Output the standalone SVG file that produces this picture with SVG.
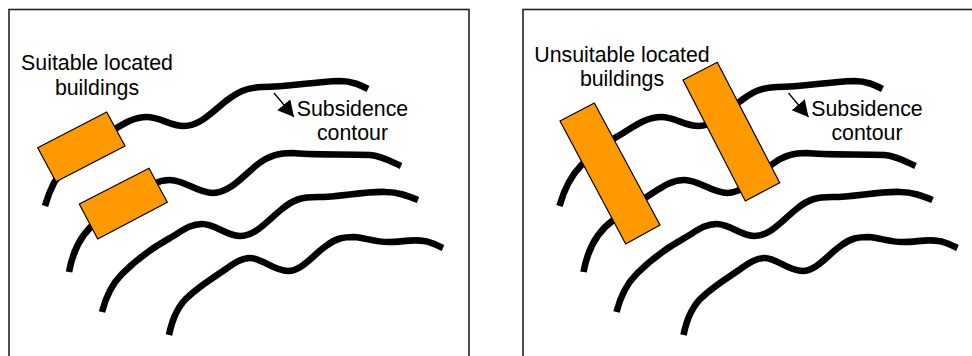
<svg xmlns="http://www.w3.org/2000/svg" xmlns:xlink="http://www.w3.org/1999/xlink" width="972" height="356" viewBox="0 0 972 356">
<style>
.frame{fill:none;stroke:#222;stroke-width:1.6}
.contour{fill:none;stroke:#000;stroke-width:6.6}
.building{fill:#f90;stroke:#000;stroke-width:1.2}
.pointer{fill:none;stroke:#000;stroke-width:1.3}
text{font-family:"Liberation Sans",Arial,sans-serif;font-size:21.33px;fill:#000;text-anchor:middle}
</style>
<defs>
<path id="c1" class="contour" d="M45 206C50 188 57 175 67 165C80 151 92 142 102 137C118 128 130 117 147 117C160 117 170 126 184 126C200 126 212 112 226 101C238 92 245 88 262 87C290 87 310 82 340 81C352 81 360 85 368 89"/>
<path id="c2" class="contour" d="M69 272C73 250 82 232 99 220C110 210 120 203 132 197C145 189 155 180 170 180C185 180 197 193 213 193C230 193 245 174 258 164C270 155 280 153 292 153C310 155 345 154 370 155C382 156 392 162 401 166"/>
<path id="c3" class="contour" d="M102 312C106 296 112 284 122 274C136 260 150 249 170 238C182 231 190 224 202 224C216 224 226 236 240 236C256 236 268 220 282 209C294 199 302 197 318 197C340 197 365 191 386 192C398 192 408 196 418 200"/>
<path id="c4" class="contour" d="M169 335C172 320 177 306 189 296C200 286 210 280 220 273C232 265 240 258 250 258C262 258 274 271 288 271C302 271 314 254 326 246C336 238 344 237 354 237C366 238 375 242 388 242C402 242 412 239 424 241C432 242 436 245 443 248"/>
<marker id="ah" markerUnits="userSpaceOnUse" markerWidth="18" markerHeight="18" refX="16" refY="8.5" orient="auto"><path d="M0 0L16 8.5L0 17Z"/></marker>
</defs>
<g id="panel-left">
<rect class="frame" x="9" y="9.5" width="460" height="360"/>
</g>
<g id="panel-right">
<rect class="frame" x="523" y="9.5" width="470" height="360"/>
</g>
<g id="connectors-left">
<use xlink:href="#c1" href="#c1"/><use xlink:href="#c2" href="#c2"/><use xlink:href="#c3" href="#c3"/><use xlink:href="#c4" href="#c4"/>
<line class="pointer" x1="274" y1="93" x2="294" y2="117" marker-end="url(#ah)"/>
</g>
<g id="connectors-right" transform="translate(514.5 0)">
<use xlink:href="#c1" href="#c1"/><use xlink:href="#c2" href="#c2"/><use xlink:href="#c3" href="#c3"/><use xlink:href="#c4" href="#c4"/>
<line class="pointer" x1="274" y1="93" x2="294" y2="117" marker-end="url(#ah)"/>
</g>
<g id="building-left-1"><polygon class="building" points="37.7,147.7 106.7,112 125,146 56,181.7"/></g>
<g id="building-left-2"><polygon class="building" points="79.3,204 149,168.3 167.3,202.3 97.7,239"/></g>
<g id="building-right-1"><polygon class="building" points="560,121 594.3,103 660,225 625.7,244"/></g>
<g id="building-right-2"><polygon class="building" points="683,80 717.3,62.3 779.7,182.7 745.3,201"/></g>
<g id="label-left"><text x="97" y="69.5">Suitable located</text><text x="97" y="94.5">buildings</text></g>
<g id="label-subsidence-left"><text x="352.5" y="115.5">Subsidence</text><text x="352.5" y="139.5">contour</text></g>
<g id="label-right"><text x="622" y="61.5">Unsuitable located</text><text x="622" y="86">buildings</text></g>
<g id="label-subsidence-right"><text x="867" y="115.5">Subsidence</text><text x="867" y="139.5">contour</text></g>
</svg>
